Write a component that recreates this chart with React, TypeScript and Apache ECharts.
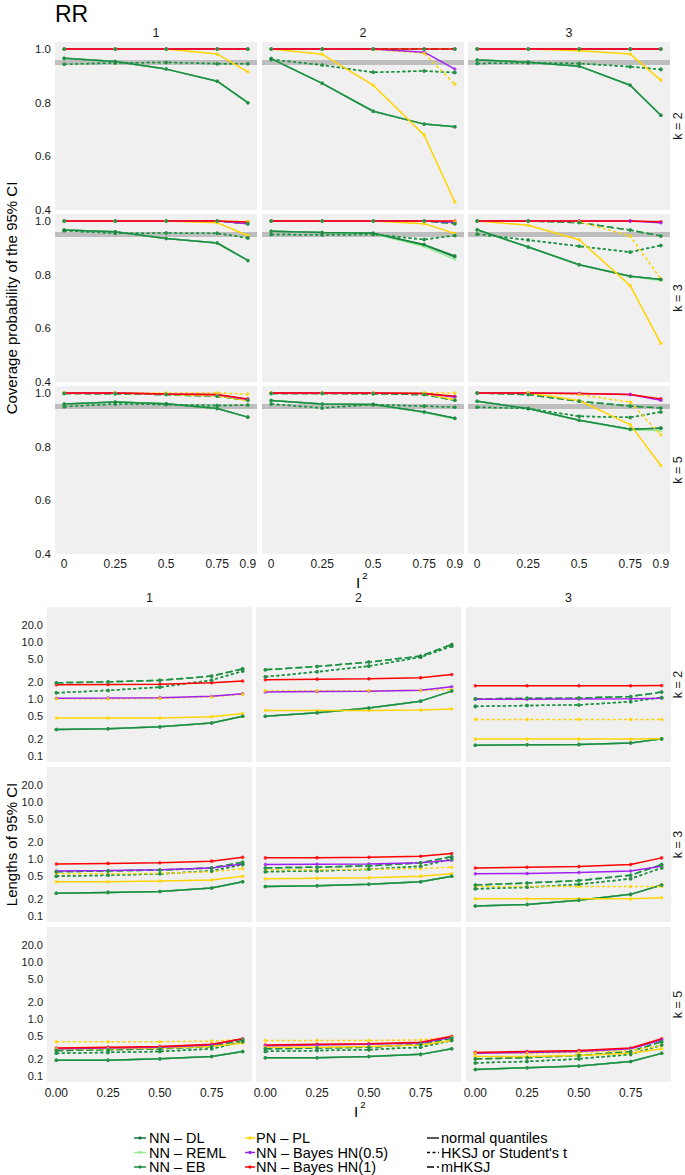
import React, { useEffect, useRef } from "react";
import * as echarts from "echarts";

// ---------------- data ----------------
const i2Values = [0, 0.25, 0.5, 0.75, 0.9];
const topXTicks = [0, 0.25, 0.5, 0.75, 0.9];
const bottomXTicks = [0, 0.25, 0.5, 0.75];
const covTicks = [0.4, 0.6, 0.8, 1.0];
const lenTicks = [0.1, 0.2, 0.5, 1, 2, 5, 10, 20];
const colLabels = ["1", "2", "3"];
const rowLabels = ["k = 2", "k = 3", "k = 5"];
const refCoverage = 0.95;

const methodNames = ["NN – DL", "NN – REML", "NN – EB", "PN – PL", "NN – Bayes HN(0.5)", "NN – Bayes HN(1)"];
const methodColors = ["#13793a", "#98ec98", "#1a8c45", "#ffd400", "#a020f0", "#ff0000"];
const lineTypeNames = ["normal quantiles", "HKSJ or Student's t", "mHKSJ"];
// row order inside every panel array: [method index, linetype index]
const lineKeys: [number, number][] = [
  [0, 0], [0, 1], [0, 2],
  [1, 0], [1, 1], [1, 2],
  [2, 0], [2, 1], [2, 2],
  [3, 0], [3, 1],
  [4, 0],
  [5, 0],
];

// Coverage probability panels
const cov_k2_c1 = [
  [0.965, 0.953, 0.925, 0.88, 0.8], [0.943, 0.948, 0.95, 0.945, 0.945], [1, 1, 1, 1, 1],
  [0.965, 0.953, 0.925, 0.88, 0.8], [0.943, 0.948, 0.95, 0.945, 0.945], [1, 1, 1, 1, 1],
  [0.965, 0.953, 0.925, 0.88, 0.8], [0.943, 0.948, 0.95, 0.945, 0.945], [1, 1, 1, 1, 1],
  [1, 1, 1, 0.981, 0.915], [1, 1, 1, 1, 1],
  [1, 1, 1, 1, 1],
  [1, 1, 1, 1, 1],
];
const cov_k2_c2 = [
  [0.964, 0.872, 0.768, 0.72, 0.71], [0.961, 0.94, 0.913, 0.918, 0.912], [1, 1, 1, 1, 1],
  [0.964, 0.872, 0.768, 0.72, 0.71], [0.961, 0.94, 0.913, 0.918, 0.912], [1, 1, 1, 1, 1],
  [0.964, 0.872, 0.768, 0.72, 0.71], [0.961, 0.94, 0.913, 0.918, 0.912], [1, 1, 1, 1, 1],
  [1, 0.98, 0.865, 0.679, 0.43], [1, 1, 0.998, 0.984, 0.869],
  [1, 1, 1, 0.988, 0.925],
  [1, 1, 1, 1, 1],
];
const cov_k2_c3 = [
  [0.959, 0.951, 0.936, 0.865, 0.753], [0.946, 0.948, 0.946, 0.934, 0.924], [1, 1, 1, 1, 1],
  [0.959, 0.951, 0.936, 0.865, 0.753], [0.946, 0.948, 0.946, 0.934, 0.924], [1, 1, 1, 1, 1],
  [0.959, 0.951, 0.936, 0.865, 0.753], [0.946, 0.948, 0.946, 0.934, 0.924], [1, 1, 1, 1, 1],
  [1, 1, 0.993, 0.981, 0.884], [1, 1, 1, 1, 1],
  [1, 1, 1, 1, 1],
  [1, 1, 1, 1, 1],
];
const cov_k3_c1 = [
  [0.966, 0.96, 0.935, 0.918, 0.853], [0.964, 0.954, 0.955, 0.954, 0.937], [1, 1, 1, 1, 0.99],
  [0.966, 0.96, 0.935, 0.918, 0.853], [0.964, 0.954, 0.955, 0.954, 0.937], [1, 1, 1, 1, 0.99],
  [0.966, 0.96, 0.935, 0.918, 0.853], [0.964, 0.954, 0.955, 0.954, 0.937], [1, 1, 1, 1, 0.99],
  [1, 1, 1, 0.993, 0.946], [1, 1, 1, 1, 0.998],
  [1, 1, 1, 1, 0.99],
  [1, 1, 1, 1, 0.996],
];
const cov_k3_c2 = [
  [0.962, 0.957, 0.954, 0.912, 0.87], [0.95, 0.948, 0.95, 0.931, 0.946], [1, 1, 1, 1, 0.99],
  [0.962, 0.957, 0.952, 0.905, 0.857], [0.95, 0.948, 0.95, 0.931, 0.946], [1, 1, 1, 1, 0.99],
  [0.962, 0.957, 0.954, 0.91, 0.866], [0.95, 0.948, 0.95, 0.931, 0.946], [1, 1, 1, 1, 0.99],
  [1, 1, 1, 0.99, 0.953], [1, 1, 1, 1, 0.998],
  [1, 1, 1, 1, 0.995],
  [1, 1, 1, 1, 1],
];
const cov_k3_c3 = [
  [0.967, 0.903, 0.837, 0.794, 0.782], [0.951, 0.929, 0.906, 0.884, 0.909], [1, 1, 0.994, 0.966, 0.944],
  [0.967, 0.903, 0.837, 0.794, 0.778], [0.951, 0.929, 0.906, 0.884, 0.909], [1, 1, 0.994, 0.966, 0.944],
  [0.967, 0.903, 0.837, 0.794, 0.782], [0.951, 0.929, 0.906, 0.884, 0.909], [1, 1, 0.994, 0.966, 0.944],
  [1, 0.984, 0.93, 0.759, 0.544], [1, 1, 0.998, 0.944, 0.784],
  [1, 1, 1, 1, 0.993],
  [1, 1, 1, 1, 0.997],
];
const cov_k5_c1 = [
  [0.959, 0.966, 0.96, 0.942, 0.91], [0.949, 0.959, 0.957, 0.953, 0.955], [0.998, 0.997, 0.994, 0.988, 0.973],
  [0.959, 0.966, 0.96, 0.942, 0.91], [0.949, 0.959, 0.957, 0.953, 0.955], [0.998, 0.997, 0.994, 0.988, 0.973],
  [0.959, 0.966, 0.96, 0.942, 0.91], [0.949, 0.959, 0.957, 0.953, 0.955], [0.998, 0.997, 0.994, 0.988, 0.973],
  [1, 1, 0.995, 0.99, 0.972], [1, 1, 1, 1, 0.996],
  [1, 1, 0.996, 0.993, 0.976],
  [1, 1, 0.996, 0.994, 0.978],
];
const cov_k5_c2 = [
  [0.972, 0.959, 0.957, 0.929, 0.906], [0.959, 0.944, 0.957, 0.951, 0.947], [0.998, 0.998, 0.997, 0.994, 0.973],
  [0.972, 0.959, 0.957, 0.927, 0.903], [0.959, 0.944, 0.957, 0.951, 0.947], [0.998, 0.998, 0.997, 0.994, 0.973],
  [0.972, 0.959, 0.957, 0.929, 0.906], [0.959, 0.944, 0.957, 0.951, 0.947], [0.998, 0.998, 0.997, 0.994, 0.973],
  [1, 1, 1, 0.998, 0.975], [1, 1, 1, 1, 1],
  [1, 1, 1, 0.998, 0.985],
  [1, 1, 1, 0.998, 0.988],
];
const cov_k5_c3 = [
  [0.969, 0.942, 0.898, 0.865, 0.869], [0.947, 0.942, 0.913, 0.909, 0.929], [1, 0.994, 0.969, 0.951, 0.944],
  [0.969, 0.942, 0.898, 0.862, 0.86], [0.947, 0.942, 0.913, 0.909, 0.929], [1, 0.994, 0.969, 0.951, 0.944],
  [0.969, 0.942, 0.898, 0.865, 0.869], [0.947, 0.942, 0.913, 0.909, 0.929], [1, 0.994, 0.969, 0.951, 0.944],
  [1, 1, 0.972, 0.882, 0.73], [1, 1, 0.994, 0.966, 0.844],
  [1, 1, 0.998, 0.994, 0.973],
  [1, 1, 0.998, 0.994, 0.978],
];

// Lengths of 95% CI panels
const len_k2_c1 = [
  [0.293, 0.3, 0.325, 0.38, 0.5], [1.29, 1.42, 1.62, 2.15, 3.1], [1.93, 2.01, 2.13, 2.53, 3.4],
  [0.293, 0.3, 0.325, 0.38, 0.5], [1.29, 1.42, 1.62, 2.15, 3.1], [1.93, 2.01, 2.13, 2.53, 3.4],
  [0.293, 0.3, 0.325, 0.38, 0.5], [1.29, 1.42, 1.62, 2.15, 3.1], [1.93, 2.01, 2.13, 2.53, 3.4],
  [0.465, 0.465, 0.465, 0.49, 0.56], [1.01, 1.01, 1.03, 1.1, 1.22],
  [1.03, 1.04, 1.06, 1.12, 1.24],
  [1.78, 1.8, 1.83, 1.93, 2.07],
];
const len_k2_c2 = [
  [0.5, 0.575, 0.7, 0.92, 1.38], [2.46, 3.01, 3.79, 5.45, 8.5], [3.27, 3.74, 4.46, 5.68, 9.1],
  [0.5, 0.575, 0.7, 0.92, 1.38], [2.46, 3.01, 3.79, 5.45, 8.5], [3.27, 3.74, 4.46, 5.68, 9.1],
  [0.5, 0.575, 0.7, 0.92, 1.38], [2.46, 3.01, 3.79, 5.45, 8.5], [3.27, 3.74, 4.46, 5.68, 9.1],
  [0.633, 0.633, 0.633, 0.64, 0.67], [1.4, 1.4, 1.4, 1.42, 1.47],
  [1.33, 1.36, 1.37, 1.43, 1.64],
  [2.18, 2.24, 2.27, 2.38, 2.71],
];
const len_k2_c3 = [
  [0.154, 0.158, 0.16, 0.17, 0.2], [0.744, 0.77, 0.79, 0.9, 1.07], [1.01, 1.03, 1.04, 1.11, 1.33],
  [0.154, 0.158, 0.16, 0.17, 0.2], [0.744, 0.77, 0.79, 0.9, 1.07], [1.01, 1.03, 1.04, 1.11, 1.33],
  [0.154, 0.158, 0.16, 0.17, 0.2], [0.744, 0.77, 0.79, 0.9, 1.07], [1.01, 1.03, 1.04, 1.11, 1.33],
  [0.198, 0.198, 0.198, 0.198, 0.2], [0.44, 0.44, 0.44, 0.44, 0.44],
  [0.99, 0.99, 1.0, 1.01, 1.03],
  [1.71, 1.71, 1.71, 1.72, 1.73],
];
const len_k3_c1 = [
  [0.25, 0.26, 0.27, 0.31, 0.4], [0.5, 0.52, 0.55, 0.62, 0.8], [0.6, 0.62, 0.64, 0.7, 0.88],
  [0.25, 0.26, 0.27, 0.31, 0.4], [0.5, 0.52, 0.55, 0.62, 0.8], [0.6, 0.62, 0.64, 0.7, 0.88],
  [0.25, 0.26, 0.27, 0.31, 0.4], [0.5, 0.52, 0.55, 0.62, 0.8], [0.6, 0.62, 0.64, 0.7, 0.88],
  [0.4, 0.4, 0.41, 0.43, 0.5], [0.55, 0.55, 0.56, 0.6, 0.68],
  [0.62, 0.63, 0.65, 0.7, 0.82],
  [0.82, 0.84, 0.86, 0.92, 1.08],
];
const len_k3_c2 = [
  [0.33, 0.34, 0.36, 0.4, 0.5], [0.6, 0.62, 0.66, 0.75, 1.0], [0.7, 0.72, 0.76, 0.86, 1.1],
  [0.33, 0.34, 0.36, 0.4, 0.5], [0.6, 0.62, 0.66, 0.75, 1.0], [0.7, 0.72, 0.76, 0.86, 1.1],
  [0.33, 0.34, 0.36, 0.4, 0.5], [0.6, 0.62, 0.66, 0.75, 1.0], [0.7, 0.72, 0.76, 0.86, 1.1],
  [0.45, 0.46, 0.47, 0.5, 0.55], [0.65, 0.65, 0.66, 0.68, 0.72],
  [0.8, 0.81, 0.82, 0.86, 0.95],
  [1.05, 1.06, 1.08, 1.12, 1.25],
];
const len_k3_c3 = [
  [0.15, 0.16, 0.19, 0.24, 0.35], [0.3, 0.32, 0.36, 0.45, 0.7], [0.35, 0.38, 0.42, 0.52, 0.8],
  [0.15, 0.16, 0.19, 0.24, 0.35], [0.3, 0.32, 0.36, 0.45, 0.7], [0.35, 0.38, 0.42, 0.52, 0.8],
  [0.15, 0.16, 0.19, 0.24, 0.35], [0.3, 0.32, 0.36, 0.45, 0.7], [0.35, 0.38, 0.42, 0.52, 0.8],
  [0.2, 0.2, 0.2, 0.2, 0.21], [0.33, 0.33, 0.33, 0.33, 0.33],
  [0.55, 0.56, 0.58, 0.62, 0.75],
  [0.7, 0.72, 0.74, 0.8, 1.05],
];
const len_k5_c1 = [
  [0.19, 0.19, 0.2, 0.22, 0.27], [0.25, 0.26, 0.27, 0.3, 0.4], [0.28, 0.29, 0.3, 0.33, 0.43],
  [0.19, 0.19, 0.2, 0.22, 0.27], [0.25, 0.26, 0.27, 0.3, 0.4], [0.28, 0.29, 0.3, 0.33, 0.43],
  [0.19, 0.19, 0.2, 0.22, 0.27], [0.25, 0.26, 0.27, 0.3, 0.4], [0.28, 0.29, 0.3, 0.33, 0.43],
  [0.3, 0.3, 0.31, 0.33, 0.38], [0.4, 0.4, 0.4, 0.41, 0.44],
  [0.3, 0.31, 0.32, 0.35, 0.45],
  [0.31, 0.32, 0.33, 0.36, 0.45],
];
const len_k5_c2 = [
  [0.21, 0.21, 0.22, 0.24, 0.3], [0.27, 0.28, 0.29, 0.32, 0.42], [0.3, 0.31, 0.32, 0.36, 0.46],
  [0.21, 0.21, 0.22, 0.24, 0.3], [0.27, 0.28, 0.29, 0.32, 0.42], [0.3, 0.31, 0.32, 0.36, 0.46],
  [0.21, 0.21, 0.22, 0.24, 0.3], [0.27, 0.28, 0.29, 0.32, 0.42], [0.3, 0.31, 0.32, 0.36, 0.46],
  [0.32, 0.32, 0.33, 0.35, 0.42], [0.42, 0.42, 0.42, 0.43, 0.48],
  [0.34, 0.35, 0.36, 0.38, 0.48],
  [0.35, 0.36, 0.37, 0.39, 0.5],
];
const len_k5_c3 = [
  [0.13, 0.14, 0.15, 0.18, 0.25], [0.17, 0.18, 0.2, 0.24, 0.35], [0.2, 0.21, 0.23, 0.27, 0.4],
  [0.13, 0.14, 0.15, 0.18, 0.25], [0.17, 0.18, 0.2, 0.24, 0.35], [0.2, 0.21, 0.23, 0.27, 0.4],
  [0.13, 0.14, 0.15, 0.18, 0.25], [0.17, 0.18, 0.2, 0.24, 0.35], [0.2, 0.21, 0.23, 0.27, 0.4],
  [0.22, 0.22, 0.23, 0.25, 0.3], [0.25, 0.25, 0.26, 0.28, 0.34],
  [0.25, 0.26, 0.27, 0.3, 0.43],
  [0.26, 0.27, 0.28, 0.31, 0.45],
];

const covPanels = [cov_k2_c1, cov_k2_c2, cov_k2_c3, cov_k3_c1, cov_k3_c2, cov_k3_c3, cov_k5_c1, cov_k5_c2, cov_k5_c3];
const lenPanels = [len_k2_c1, len_k2_c2, len_k2_c3, len_k3_c1, len_k3_c2, len_k3_c3, len_k5_c1, len_k5_c2, len_k5_c3];

// ---------------- layout / style ----------------
const FONT = "Liberation Sans, Arial, Helvetica, sans-serif";
const X_MIN = -0.045;
const X_MAX = 0.945;
const lineDashes: any[] = ["solid", [3, 2.5], [7, 3]];
const topLeft = [55, 262, 468];
const topTop = [42, 214, 386];
const topW = 202;
const topH = 168;
const botLeft = [47, 256, 466];
const botTop = [607, 767, 927];
const botW = 205;
const botH = 155;
const LEN_MIN = 0.0785;
const LEN_MAX = 41.4;

function buildOption() {
  const grids: any[] = [];
  const xAxes: any[] = [];
  const yAxes: any[] = [];
  const bandSeries: any[] = [];
  const lineSeries: any[] = [];
  const pointSeries: any[] = [];

  for (let ch = 0; ch < 2; ch++) {
    const isTop = ch === 0;
    for (let r = 0; r < 3; r++) {
      for (let c = 0; c < 3; c++) {
        const g = ch * 9 + r * 3 + c;
        grids.push({
          left: isTop ? topLeft[c] : botLeft[c],
          top: isTop ? topTop[r] : botTop[r],
          width: isTop ? topW : botW,
          height: isTop ? topH : botH,
          show: true,
          backgroundColor: "#f0f0f0",
          borderWidth: 0,
        });
        xAxes.push({
          gridIndex: g,
          type: "value",
          min: X_MIN,
          max: X_MAX,
          axisLine: { show: false },
          axisTick: { show: false },
          splitLine: { show: false },
          axisLabel: {
            show: r === 2,
            customValues: isTop ? topXTicks : bottomXTicks,
            formatter: (v: number) => (isTop ? String(v) : v.toFixed(2)),
            color: "#1a1a1a",
            fontSize: 12,
            fontFamily: FONT,
            margin: isTop ? 4 : 5,
          },
        });
        yAxes.push({
          gridIndex: g,
          type: "value",
          min: isTop ? 0.4 : Math.log10(LEN_MIN),
          max: isTop ? 1.026 : Math.log10(LEN_MAX),
          axisLine: { show: false },
          axisTick: { show: false },
          splitLine: { show: false },
          axisLabel: {
            show: c === 0,
            customValues: isTop ? covTicks : lenTicks.map((v) => Math.log10(v)),
            formatter: (v: number) => (isTop ? v.toFixed(1) : Math.pow(10, v).toFixed(1)),
            color: "#1a1a1a",
            fontSize: isTop ? 11.5 : 11,
            lineHeight: isTop ? 10 : 11,
            fontFamily: FONT,
            margin: 4,
          },
        });
        const panel = (isTop ? covPanels : lenPanels)[r * 3 + c];
        const tf = isTop ? (v: number) => v : (v: number) => Math.log10(v);
        if (isTop) {
          bandSeries.push({
            type: "line",
            xAxisIndex: g,
            yAxisIndex: g,
            data: [[X_MIN, refCoverage], [X_MAX, refCoverage]],
            symbol: "none",
            silent: true,
            z: 1,
            lineStyle: { color: "#bebebe", width: 5 },
          });
        }
        lineKeys.forEach(([m, lt], k) => {
          lineSeries.push({
            type: "line",
            xAxisIndex: g,
            yAxisIndex: g,
            data: i2Values.map((x, i) => [x, tf(panel[k][i])]),
            symbol: "none",
            silent: true,
            z: 3,
            lineStyle: { color: methodColors[m], width: 1.5, type: lineDashes[lt] },
          });
        });
        for (let k = lineKeys.length - 1; k >= 0; k--) {
          const m = lineKeys[k][0];
          pointSeries.push({
            type: "scatter",
            xAxisIndex: g,
            yAxisIndex: g,
            data: i2Values.map((x, i) => [x, tf(panel[k][i])]),
            symbol: "circle",
            symbolSize: 3.5,
            silent: true,
            z: 4,
            itemStyle: { color: methodColors[m] },
          });
        }
      }
    }
  }

  const graphic: any[] = [];
  const txt = (text: string, x: number, y: number, size: number, opts: any = {}) =>
    graphic.push({
      type: "text",
      x,
      y,
      rotation: opts.rotation || 0,
      silent: true,
      style: {
        text,
        fill: opts.fill || "#1a1a1a",
        fontSize: size,
        fontFamily: FONT,
        lineHeight: opts.lineHeight,
        align: opts.align || "center",
        verticalAlign: opts.verticalAlign || "middle",
      },
    });

  txt("RR", 55, 14, 23, { align: "left", fill: "#000" });
  for (let c = 0; c < 3; c++) {
    txt(colLabels[c], topLeft[c] + topW / 2, 33, 12.5);
    txt(colLabels[c], botLeft[c] + botW / 2, 598, 12.5);
  }
  for (let r = 0; r < 3; r++) {
    txt(rowLabels[r], 678, topTop[r] + topH / 2, 12.5, { rotation: Math.PI / 2 });
    txt(rowLabels[r], 678, botTop[r] + botH / 2, 12.5, { rotation: Math.PI / 2 });
  }
  txt("Coverage probability of the 95% CI", 11, (topTop[0] + topTop[2] + topH) / 2, 15, { rotation: Math.PI / 2, fill: "#000" });
  txt("Lengths of 95% CI", 11, (botTop[0] + botTop[2] + botH) / 2, 15, { rotation: Math.PI / 2, fill: "#000" });
  txt("I", 358, 582, 15, { fill: "#000" });
  txt("2", 365, 575, 9.5, { fill: "#000" });
  txt("I", 356, 1111, 15, { fill: "#000" });
  txt("2", 363, 1104, 9.5, { fill: "#000" });

  // legend
  const legRows = [1138, 1152.5, 1167];
  const legCols = [
    { x1: 134, x2: 146, tx: 149 },
    { x1: 245, x2: 255, tx: 256 },
  ];
  methodNames.forEach((name, i) => {
    const col = legCols[Math.floor(i / 3)];
    const y = legRows[i % 3];
    graphic.push({
      type: "line",
      silent: true,
      shape: { x1: col.x1, y1: y, x2: col.x2, y2: y },
      style: { stroke: methodColors[i], lineWidth: 1.5 },
    });
    graphic.push({
      type: "circle",
      silent: true,
      shape: { cx: (col.x1 + col.x2) / 2, cy: y, r: 1.6 },
      style: { fill: methodColors[i] },
    });
    txt(name, col.tx, y, 14.5, { align: "left", fill: "#000", lineHeight: 13 });
  });
  lineTypeNames.forEach((name, i) => {
    const y = legRows[i];
    graphic.push({
      type: "line",
      silent: true,
      shape: { x1: 427, x2: 439, y1: y, y2: y },
      style: { stroke: "#000", lineWidth: 1.3, lineDash: i === 0 ? null : lineDashes[i] },
    });
    txt(name, 441, y, 14.5, { align: "left", fill: "#000", lineHeight: 13 });
  });

  return {
    animation: false,
    backgroundColor: "#ffffff",
    grid: grids,
    xAxis: xAxes,
    yAxis: yAxes,
    series: [...bandSeries, ...lineSeries, ...pointSeries],
    graphic,
  };
}

export default function App() {
  const ref = useRef<HTMLDivElement>(null);
  useEffect(() => {
    if (!ref.current) return;
    const chart = echarts.init(ref.current, null, { renderer: "svg" });
    chart.setOption(buildOption());
    return () => chart.dispose();
  }, []);
  return (
    <div
      ref={ref}
      style={{ position: "absolute", left: 0, top: 0, width: 685, height: 1175, background: "#fff" }}
    />
  );
}
